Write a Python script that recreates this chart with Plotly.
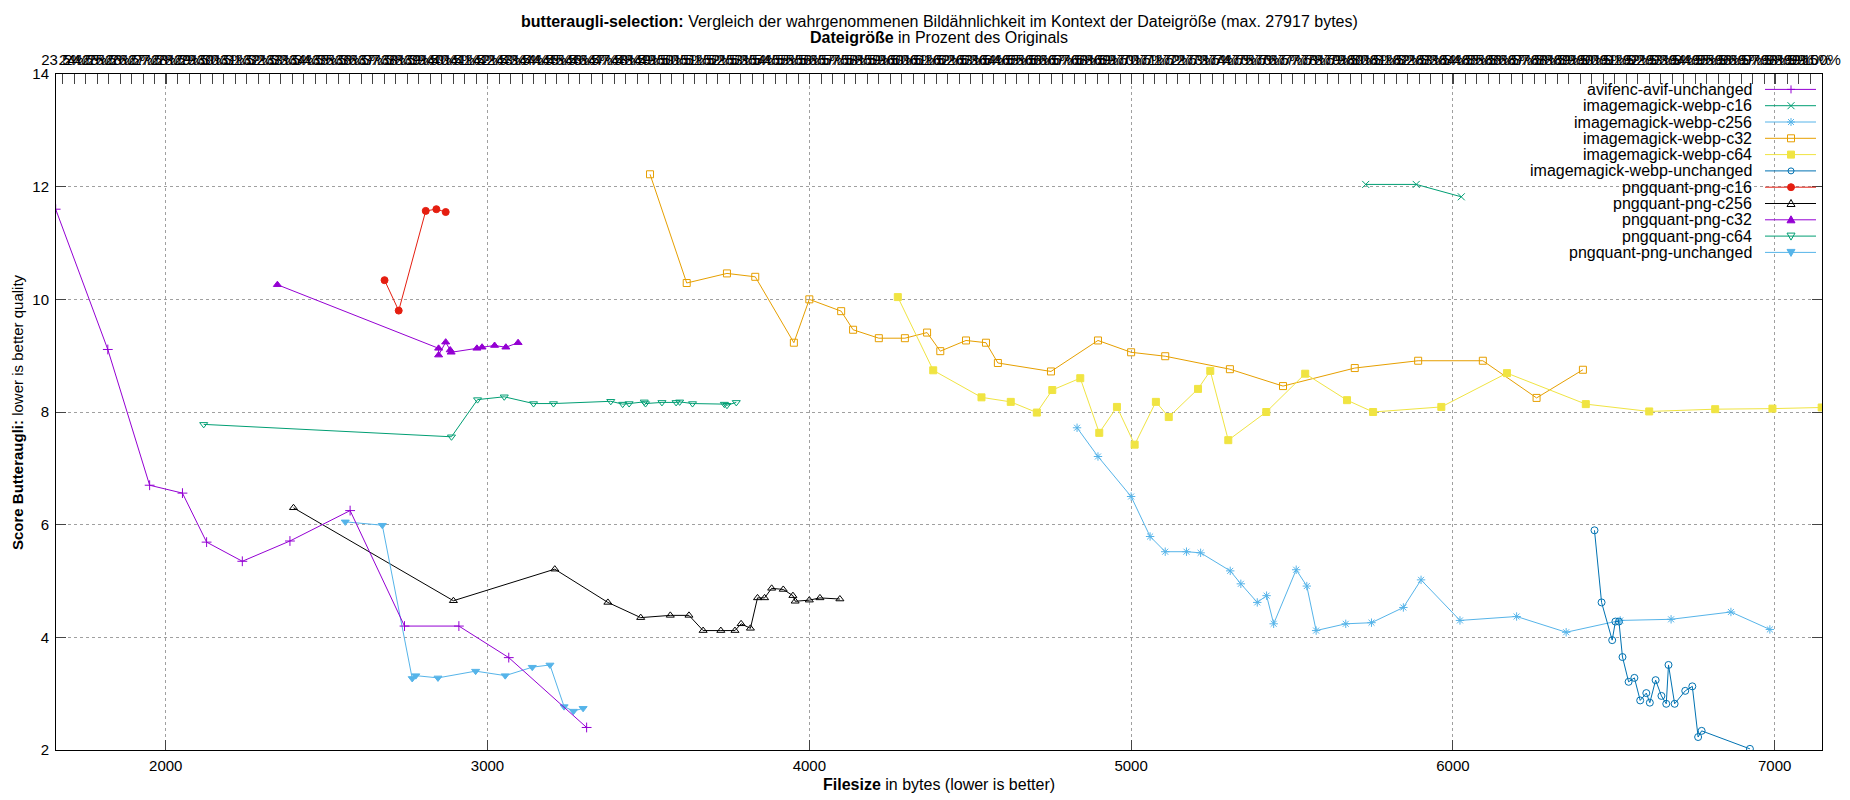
import plotly.graph_objects as go

# filesize (bytes) / butteraugli score
avif_unchanged_x = [1658, 1820, 1950, 2052, 2127, 2238, 2386, 2573, 2742, 2911, 3066, 3308]
avif_unchanged_y = [11.60, 9.11, 6.70, 6.56, 5.69, 5.35, 5.71, 6.25, 4.20, 4.20, 3.64, 2.40]

webp_c16_x = [5729, 5886, 6026]
webp_c16_y = [12.04, 12.04, 11.82]

webp_c256_x = [4832, 4897, 5000, 5059, 5106, 5172, 5216, 5308, 5341, 5392, 5421, 5443, 5513,
               5546, 5575, 5667, 5747, 5846, 5901, 6022, 6198, 6352, 6520, 6678, 6864, 6985]
webp_c256_y = [7.72, 7.21, 6.50, 5.79, 5.52, 5.52, 5.50, 5.18, 4.95, 4.62, 4.74, 4.24, 5.20,
               4.91, 4.12, 4.24, 4.26, 4.53, 5.02, 4.30, 4.37, 4.09, 4.30, 4.32, 4.45, 4.14]

webp_c32_x = [3505, 3619, 3744, 3832, 3952, 4000, 4099, 4136, 4216, 4297, 4366, 4407, 4487,
              4549, 4586, 4751, 4897, 5000, 5106, 5307, 5472, 5695, 5892, 6093, 6260, 6404]
webp_c32_y = [12.22, 10.29, 10.46, 10.40, 9.23, 10.00, 9.79, 9.46, 9.31, 9.31, 9.41, 9.08, 9.27,
              9.23, 8.87, 8.72, 9.27, 9.06, 8.99, 8.76, 8.46, 8.78, 8.91, 8.91, 8.25, 8.75]

webp_c64_x = [4275, 4385, 4535, 4626, 4707, 4755, 4842, 4901, 4956, 5011, 5077, 5117, 5208,
              5246, 5302, 5420, 5541, 5671, 5752, 5964, 6168, 6413, 6610, 6815, 6993, 7146]
webp_c64_y = [10.04, 8.74, 8.26, 8.18, 7.99, 8.39, 8.60, 7.63, 8.09, 7.42, 8.18, 7.91, 8.41,
              8.73, 7.50, 8.00, 8.68, 8.21, 8.00, 8.09, 8.69, 8.14, 8.01, 8.05, 8.06, 8.08]

webp_unchanged_x = [6440, 6462, 6495, 6505, 6516, 6527, 6546, 6564, 6582, 6601, 6612,
                    6630, 6648, 6663, 6670, 6689, 6722, 6744, 6762, 6773, 6923]
webp_unchanged_y = [5.90, 4.62, 3.95, 4.28, 4.28, 3.65, 3.21, 3.28, 2.88, 3.01, 2.84,
                    3.24, 2.96, 2.82, 3.51, 2.82, 3.05, 3.13, 2.23, 2.34, 2.02]

png_c16_x = [2680, 2724, 2808, 2841, 2870]
png_c16_y = [10.34, 9.80, 11.57, 11.60, 11.55]

png_c256_x = [2397, 2894, 3209, 3374, 3476, 3568, 3626, 3670, 3725, 3769, 3788, 3817, 3839,
              3861, 3883, 3919, 3949, 3956, 4000, 4033, 4095]
png_c256_y = [6.30, 4.65, 5.21, 4.62, 4.35, 4.39, 4.39, 4.12, 4.12, 4.12, 4.24, 4.16, 4.70,
              4.70, 4.87, 4.85, 4.74, 4.64, 4.66, 4.70, 4.68]

png_c32_x = [2347, 2848, 2848, 2870, 2884, 2887, 2967, 2983, 3022, 3057, 3095]
png_c32_y = [10.26, 9.13, 9.01, 9.24, 9.10, 9.06, 9.13, 9.15, 9.18, 9.15, 9.23]

png_c64_x = [2118, 2888, 2969, 3052, 3143, 3205, 3383, 3420, 3440, 3487, 3491, 3542, 3586,
             3597, 3637, 3736, 3744, 3773]
png_c64_y = [7.78, 7.56, 8.22, 8.27, 8.15, 8.15, 8.19, 8.14, 8.15, 8.18, 8.15, 8.17, 8.17,
             8.18, 8.15, 8.14, 8.12, 8.17]

png_unchanged_x = [2558, 2673, 2766, 2777, 2846, 2963, 3055, 3139, 3194, 3238, 3267, 3297]
png_unchanged_y = [6.05, 5.99, 3.27, 3.32, 3.28, 3.40, 3.32, 3.47, 3.51, 2.77, 2.69, 2.74]

# top axis: size in percent, 100% = largest file in the plot
BASE_SIZE = 7146
X2_PCT = [p / 2 for p in range(47, 201)]
X2_TICKS = [BASE_SIZE * p / 100 for p in X2_PCT]
X2_LABELS = [f"{p:g}%" for p in X2_PCT]

X_TICKS = [2000, 3000, 4000, 5000, 6000, 7000]
Y_TICKS = [2, 4, 6, 8, 10, 12, 14]
XRANGE = [1659, 7147]

FONT = "Liberation Sans, Arial, sans-serif"

series = [
    ("avifenc-avif-unchanged", avif_unchanged_x, avif_unchanged_y, "#9400d3", "cross-thin-open"),
    ("imagemagick-webp-c16", webp_c16_x, webp_c16_y, "#009e73", "x-thin-open"),
    ("imagemagick-webp-c256", webp_c256_x, webp_c256_y, "#56b4e9", "asterisk-open"),
    ("imagemagick-webp-c32", webp_c32_x, webp_c32_y, "#e69f00", "square-open"),
    ("imagemagick-webp-c64", webp_c64_x, webp_c64_y, "#f0e442", "square"),
    ("imagemagick-webp-unchanged", webp_unchanged_x, webp_unchanged_y, "#0072b2", "circle-open"),
    ("pngquant-png-c16", png_c16_x, png_c16_y, "#e51e10", "circle"),
    ("pngquant-png-c256", png_c256_x, png_c256_y, "#000000", "triangle-up-open"),
    ("pngquant-png-c32", png_c32_x, png_c32_y, "#9400d3", "triangle-up"),
    ("pngquant-png-c64", png_c64_x, png_c64_y, "#009e73", "triangle-down-open"),
    ("pngquant-png-unchanged", png_unchanged_x, png_unchanged_y, "#56b4e9", "triangle-down"),
]

# gnuplot-style key glyphs (pixel paths, y up), filled or not; None -> circle shape
KEY_GLYPHS = {
    "cross-thin-open": ("M-4,0H4M0,-4V4", False),
    "x-thin-open": ("M-3.5,-3.5L3.5,3.5M-3.5,3.5L3.5,-3.5", False),
    "asterisk-open": ("M-4,0H4M0,-4V4M-3,-3L3,3M-3,3L3,-3", False),
    "square-open": ("M-3.5,-3.5H3.5V3.5H-3.5Z", False),
    "square": ("M-3.5,-3.5H3.5V3.5H-3.5Z", True),
    "circle-open": (None, False),
    "circle": (None, True),
    "triangle-up-open": ("M-4,-3L4,-3L0,4Z", False),
    "triangle-up": ("M-4,-3L4,-3L0,4Z", True),
    "triangle-down-open": ("M-4,3L4,3L0,-4Z", False),
    "triangle-down": ("M-4,3L4,3L0,-4Z", True),
}

fig = go.Figure()
for i, (name, xs, ys, color, symbol) in enumerate(series):
    fig.add_trace(go.Scatter(
        x=xs, y=ys, name=name, mode="lines+markers",
        xaxis="x2" if i == 0 else "x",
        line=dict(color=color, width=1),
        marker=dict(symbol=symbol, color=color, size=7, line=dict(color=color, width=1)),
    ))

# key in the upper right corner, text right-aligned, sample on the right
PLOT_W, PLOT_H = 1766, 676
shapes = [dict(type="rect", layer="between", xref="paper", yref="paper",
               xsizemode="pixel", ysizemode="pixel", xanchor=1, yanchor=1,
               x0=-306, x1=0, y0=-187, y1=0, fillcolor="white", line=dict(width=0))]
annotations = []
for i, (name, xs, ys, color, symbol) in enumerate(series):
    yk = 1 - (15.4 + 16.3 * i) / PLOT_H
    annotations.append(dict(text=name, xref="paper", yref="paper", x=1, y=yk,
                            xanchor="right", yanchor="middle", xshift=-68,
                            showarrow=False, font=dict(size=16)))
    shapes.append(dict(type="line", xref="paper", yref="paper", xsizemode="pixel",
                       ysizemode="pixel", xanchor=1, yanchor=yk, x0=-57, x1=-6, y0=0, y1=0,
                       line=dict(color=color, width=1)))
    path, filled = KEY_GLYPHS[symbol]
    glyph = dict(xref="paper", yref="paper", xsizemode="pixel", ysizemode="pixel",
                 xanchor=1 - 31 / PLOT_W, yanchor=yk,
                 fillcolor=color if filled else "rgba(0,0,0,0)",
                 line=dict(color=color, width=1))
    if path is None:
        r = 3.5 if filled else 3
        glyph.update(type="circle", x0=-r, x1=r, y0=-r, y1=r)
    else:
        glyph.update(type="path", path=path)
    shapes.append(glyph)

annotations += [
    dict(text="<b>butteraugli-selection:</b> Vergleich der wahrgenommenen Bildähnlichkeit "
              "im Kontext der Dateigröße (max. 27917 bytes)",
         xref="paper", yref="paper", x=0.5, y=1, xanchor="center", yanchor="middle",
         yshift=53, showarrow=False, font=dict(size=16)),
    dict(text="<b>Dateigröße</b> in Prozent des Originals",
         xref="paper", yref="paper", x=0.5, y=1, xanchor="center", yanchor="middle",
         yshift=37, showarrow=False, font=dict(size=16)),
    dict(text="<b>Filesize</b> in bytes (lower is better)",
         xref="paper", yref="paper", x=0.5, y=0, xanchor="center", yanchor="middle",
         yshift=-34, showarrow=False, font=dict(size=16)),
    dict(text="<b>Score Butteraugli:</b> lower is better quality", textangle=-90,
         xref="paper", yref="paper", x=0, y=0.5, xanchor="center", yanchor="middle",
         xshift=-39, showarrow=False, font=dict(size=15)),
]

axis_common = dict(ticks="inside", ticklen=10, zeroline=False, tickfont=dict(size=15))

fig.update_layout(
    width=1842, height=792,
    paper_bgcolor="white", plot_bgcolor="white",
    font=dict(family=FONT, size=15, color="black"),
    margin=dict(l=48, r=28, t=66, b=50, autoexpand=False),
    showlegend=False,
    xaxis=dict(range=XRANGE, tickvals=X_TICKS, showline=True, linecolor="black",
               linewidth=1, mirror="ticks", showgrid=True, gridcolor="#a0a0a0",
               griddash="dot", gridwidth=1, ticklabelstandoff=2, **axis_common),
    xaxis2=dict(range=XRANGE, overlaying="x", side="top", anchor="y",
                tickvals=X2_TICKS, ticktext=X2_LABELS, tickangle=0,
                showgrid=False, showline=False, ticklabelstandoff=5, **axis_common),
    yaxis=dict(range=[2, 14], tickvals=Y_TICKS, showline=True, linecolor="black",
               linewidth=1, mirror="ticks", showgrid=True, gridcolor="#a0a0a0",
               griddash="dot", gridwidth=1, ticklabelstandoff=3, **axis_common),
    shapes=shapes,
    annotations=annotations,
)

fig.write_html("out.html")
